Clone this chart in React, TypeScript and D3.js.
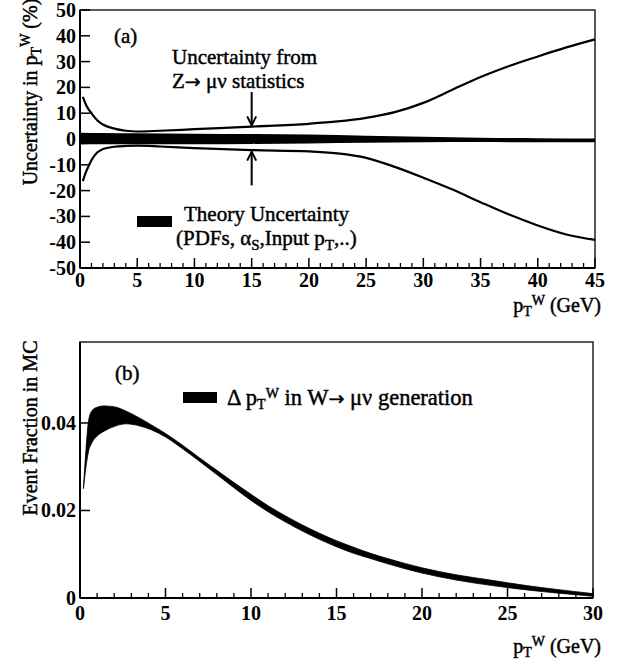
import React from 'react';
import * as d3 from 'd3';

// ---------- Panel (a): uncertainty in pT^W (%) ----------
const statPt = [0.25, 0.5, 0.75, 1, 1.5, 2, 3, 4, 5, 7, 10, 15, 20, 22.5, 25, 27.5, 30, 32.5, 35, 37.5, 40, 42.5, 45];
const statUp = [16.3, 13.5, 11.5, 10, 7.3, 5.6, 4.0, 3.2, 2.9, 3.2, 3.8, 4.8, 5.9, 6.8, 8.2, 10.4, 14, 19, 24, 28.3, 32, 35.5, 38.6];
const statDn = [-16.3, -13, -10.5, -8.2, -5.2, -3.9, -3.0, -2.7, -2.6, -2.9, -3.5, -4.3, -4.8, -5.6, -7.3, -10.8, -15, -19.5, -24.5, -29.3, -33.5, -37, -39.1];
const theoryPt = [0, 2, 5, 10, 15, 20, 25, 30, 35, 40, 45];
const theoryUp = [2.4, 2.3, 2.2, 2.0, 1.9, 1.7, 1.3, 0.9, 0.5, 0.3, 0.2];
const theoryDn = [-2.1, -2.0, -2.0, -2.0, -1.9, -1.7, -1.5, -1.3, -1.2, -1.3, -1.3];
const topYTicks = [-50, -40, -30, -20, -10, 0, 10, 20, 30, 40, 50];
const topXTicks = [0, 5, 10, 15, 20, 25, 30, 35, 40, 45];
const arrowPt = 15;
const arrowUpperFrom = 18.2;
const arrowUpperTo = 5.3;
const arrowLowerFrom = -18;
const arrowLowerTo = -4.9;

// ---------- Panel (b): event fraction in MC ----------
const mcPt = [0.2, 0.35, 0.5, 0.7, 1.0, 1.4, 2.0, 2.7, 3.5, 4.2, 5, 6, 7, 8, 9, 10, 11, 12, 13, 14, 15, 16, 17, 18, 19, 20, 22, 24, 26, 28, 30];
const mcUp = [0.025, 0.034, 0.0405, 0.0428, 0.0436, 0.0439, 0.0437, 0.0427, 0.0411, 0.0395, 0.0376, 0.0349, 0.032, 0.0292, 0.0264, 0.0237, 0.0211, 0.0188, 0.0167, 0.0148, 0.0131, 0.0116, 0.0102, 0.009, 0.0079, 0.0069, 0.0053, 0.0041, 0.0029, 0.0019, 0.001];
const mcDn = [0.025, 0.03, 0.0335, 0.0355, 0.037, 0.0381, 0.0392, 0.0398, 0.0393, 0.0384, 0.0368, 0.0341, 0.0312, 0.0282, 0.0252, 0.0223, 0.0197, 0.0174, 0.0153, 0.0134, 0.0117, 0.0102, 0.009, 0.0078, 0.0067, 0.0057, 0.0041, 0.0029, 0.0019, 0.0011, 0.0004];
const botYTicks = [0, 0.02, 0.04];
const botYLabels = ['0', '0.02', '0.04'];
const botXTicks = [0, 5, 10, 15, 20, 25, 30];

const FONT = '"Liberation Serif", "Times New Roman", serif';
const txt: any = { fontFamily: FONT, fontSize: 21, fill: '#000', stroke: '#000', strokeWidth: 0.45 };
const tickTxt: any = { fontFamily: FONT, fontSize: 20, fontWeight: 'bold', fill: '#000' };
const lblTxt: any = { ...txt, fontSize: 20 };
const legTxt: any = { ...txt, fontSize: 22.5 };
const ARROW: any = { fontFamily: '"DejaVu Sans", sans-serif', fontSize: 19 };

function PT({ sup = 'W' }: { sup?: string }) {
  return (
    <>
      <tspan>p</tspan>
      <tspan fontSize={14} dy={4}>T</tspan>
      <tspan fontSize={14} dy={-11}>{sup}</tspan>
      <tspan dy={7}> </tspan>
    </>
  );
}

export default function App() {
  const xA = d3.scaleLinear().domain([0, 45]).range([80, 595]);
  const yA = d3.scaleLinear().domain([-50, 50]).range([268, 10]);
  const xB = d3.scaleLinear().domain([0, 30]).range([80, 593]);
  const yB = d3.scaleLinear().domain([0, 0.0585]).range([598, 342]);

  const lineA = (vals: number[]) =>
    d3.line<number>().x((_, i) => xA(statPt[i])).y((d) => yA(d)).curve(d3.curveMonotoneX)(vals) || '';
  const theoryArea =
    d3.area<number>().x((_, i) => xA(theoryPt[i])).y0((_, i) => yA(theoryDn[i])).y1((d) => yA(d)).curve(d3.curveMonotoneX)(theoryUp) || '';
  const mcArea =
    d3.area<number>().x((_, i) => xB(mcPt[i])).y0((_, i) => yB(mcDn[i])).y1((d) => yB(d)).curve(d3.curveMonotoneX)(mcUp) || '';

  const minorA = d3.range(1, 45).filter((v) => v % 5 !== 0);
  const minorB = d3.range(1, 30).filter((v) => v % 5 !== 0);

  const ax = xA(arrowPt);
  const uTo = yA(arrowUpperTo);
  const lTo = yA(arrowLowerTo);

  return (
    <svg width={626} height={664} style={{ position: 'absolute', left: 0, top: 0, background: '#fff' }}>
      <rect x={0} y={0} width={626} height={664} fill="#fff" />
      {/* ---------------- Panel (a) ---------------- */}
      <path d={theoryArea} fill="#000" />
      <path d={lineA(statUp)} fill="none" stroke="#000" strokeWidth={2.2} />
      <path d={lineA(statDn)} fill="none" stroke="#000" strokeWidth={2.2} />
      <line x1={ax} x2={ax} y1={yA(arrowUpperFrom)} y2={uTo} stroke="#000" strokeWidth={2} />
      <path d={`M${ax - 4.5},${uTo - 9} L${ax},${uTo} L${ax + 4.5},${uTo - 9}`} fill="none" stroke="#000" strokeWidth={2} />
      <line x1={ax} x2={ax} y1={yA(arrowLowerFrom)} y2={lTo} stroke="#000" strokeWidth={2} />
      <path d={`M${ax - 4.5},${lTo + 9} L${ax},${lTo} L${ax + 4.5},${lTo + 9}`} fill="none" stroke="#000" strokeWidth={2} />
      <rect x={80} y={10} width={515} height={258} fill="none" stroke="#000" strokeWidth={1.3} />
      <line x1={80} x2={80} y1={10} y2={268} stroke="#000" strokeWidth={2} />
      <line x1={80} x2={595} y1={268} y2={268} stroke="#000" strokeWidth={2} />
      {topYTicks.map((t) => (
        <g key={'ya' + t}>
          <line x1={80} x2={90} y1={yA(t)} y2={yA(t)} stroke="#000" strokeWidth={1.5} />
          <text x={76} y={yA(t)} dy="0.35em" textAnchor="end" style={tickTxt}>{t}</text>
        </g>
      ))}
      {topXTicks.map((t) => (
        <g key={'xa' + t}>
          <line x1={xA(t)} x2={xA(t)} y1={268} y2={258} stroke="#000" strokeWidth={1.5} />
          <text x={xA(t)} y={287} textAnchor="middle" style={tickTxt}>{t}</text>
        </g>
      ))}
      {minorA.map((t) => (
        <line key={'ma' + t} x1={xA(t)} x2={xA(t)} y1={268} y2={263} stroke="#000" strokeWidth={1.3} />
      ))}
      <text x={114} y={43} style={txt}>(a)</text>
      <text x={172} y={64} style={txt}>Uncertainty from</text>
      <text x={172} y={88} style={txt}>
        <tspan>Z</tspan>
        <tspan style={ARROW}>→</tspan>
        <tspan> μν statistics</tspan>
      </text>
      <rect x={137} y={216} width={35} height={11} fill="#000" />
      <text x={184} y={221} style={txt}>Theory Uncertainty</text>
      <text x={176} y={245} style={txt}>
        <tspan>(PDFs, α</tspan>
        <tspan fontSize={15} dy={5}>S</tspan>
        <tspan dy={-5}>,Input p</tspan>
        <tspan fontSize={15} dy={5}>T</tspan>
        <tspan dy={-5}>,..)</tspan>
      </text>
      <text x={601} y={312} textAnchor="end" style={lblTxt}>
        <PT />
        <tspan>(GeV)</tspan>
      </text>
      <text transform="translate(37,92) rotate(-90)" textAnchor="middle" style={lblTxt}>
        <tspan>Uncertainty in </tspan>
        <PT />
        <tspan>(%)</tspan>
      </text>

      {/* ---------------- Panel (b) ---------------- */}
      <path d={mcArea} fill="#000" stroke="#000" strokeWidth={0.8} />
      <rect x={80} y={342} width={513} height={256} fill="none" stroke="#000" strokeWidth={1.3} />
      <line x1={80} x2={80} y1={342} y2={598} stroke="#000" strokeWidth={2} />
      <line x1={80} x2={593} y1={598} y2={598} stroke="#000" strokeWidth={2} />
      {botYTicks.map((t, i) => (
        <g key={'yb' + t}>
          <line x1={80} x2={90} y1={yB(t)} y2={yB(t)} stroke="#000" strokeWidth={1.5} />
          <text x={76} y={yB(t)} dy="0.35em" textAnchor="end" style={tickTxt}>{botYLabels[i]}</text>
        </g>
      ))}
      {botXTicks.map((t) => (
        <g key={'xb' + t}>
          <line x1={xB(t)} x2={xB(t)} y1={598} y2={588} stroke="#000" strokeWidth={1.5} />
          <text x={xB(t)} y={620} textAnchor="middle" style={tickTxt}>{t}</text>
        </g>
      ))}
      {minorB.map((t) => (
        <line key={'mb' + t} x1={xB(t)} x2={xB(t)} y1={598} y2={593} stroke="#000" strokeWidth={1.3} />
      ))}
      <text x={115} y={380} style={txt}>(b)</text>
      <rect x={183} y={392} width={34} height={11} fill="#000" />
      <text x={227} y={405} style={legTxt}>
        <tspan>Δ </tspan>
        <PT />
        <tspan>in W</tspan>
        <tspan style={ARROW}>→</tspan>
        <tspan> μν generation</tspan>
      </text>
      <text x={601} y={653} textAnchor="end" style={lblTxt}>
        <PT />
        <tspan>(GeV)</tspan>
      </text>
      <text transform="translate(37,428) rotate(-90)" textAnchor="middle" style={lblTxt}>Event Fraction in MC</text>
    </svg>
  );
}
